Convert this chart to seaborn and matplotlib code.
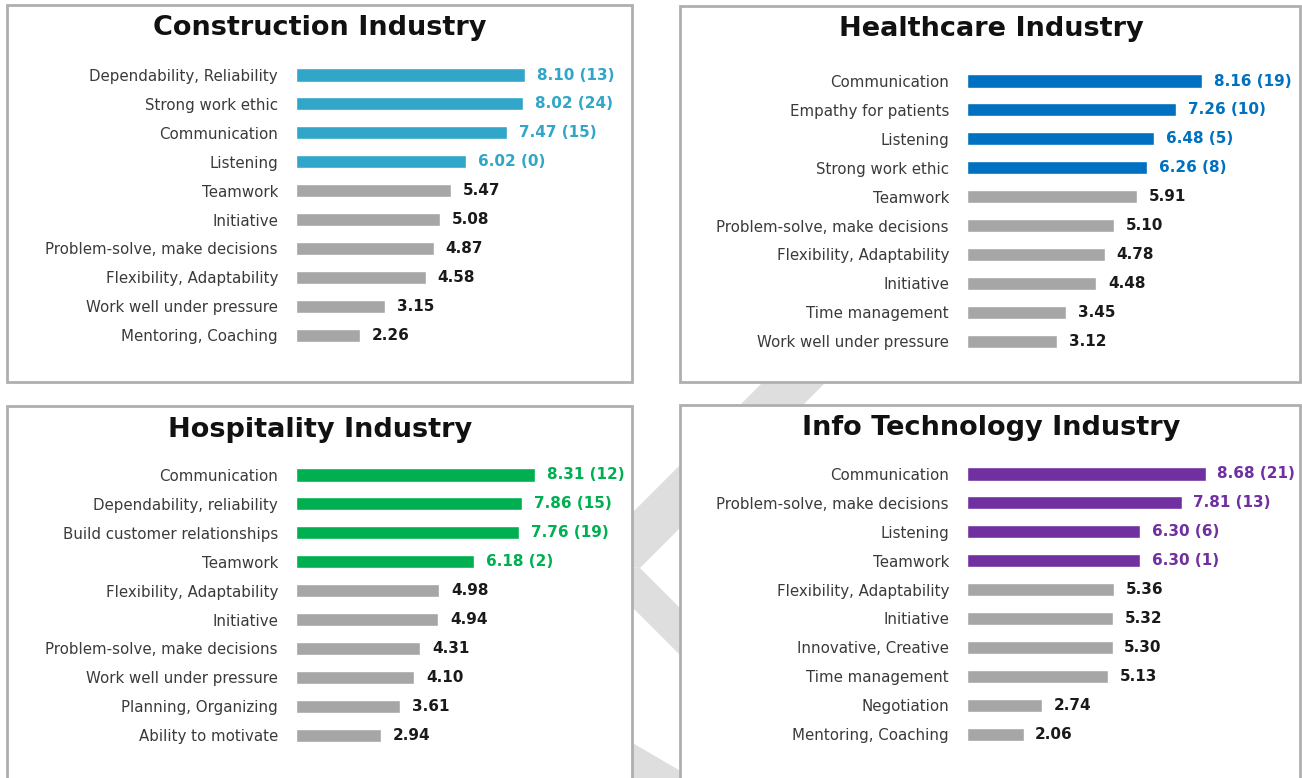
import matplotlib
matplotlib.use("Agg")
import matplotlib.pyplot as plt
import seaborn as sns
import pandas as pd
from matplotlib.patches import Rectangle, Polygon

# ---------------- data ----------------
con_title = "Construction Industry"
con_labels = ["Dependability, Reliability", "Strong work ethic", "Communication", "Listening",
              "Teamwork", "Initiative", "Problem-solve, make decisions", "Flexibility, Adaptability",
              "Work well under pressure", "Mentoring, Coaching"]
con_values = [8.10, 8.02, 7.47, 6.02, 5.47, 5.08, 4.87, 4.58, 3.15, 2.26]
con_counts = [13, 24, 15, 0, None, None, None, None, None, None]

hea_title = "Healthcare Industry"
hea_labels = ["Communication", "Empathy for patients", "Listening", "Strong work ethic",
              "Teamwork", "Problem-solve, make decisions", "Flexibility, Adaptability", "Initiative",
              "Time management", "Work well under pressure"]
hea_values = [8.16, 7.26, 6.48, 6.26, 5.91, 5.10, 4.78, 4.48, 3.45, 3.12]
hea_counts = [19, 10, 5, 8, None, None, None, None, None, None]

hos_title = "Hospitality Industry"
hos_labels = ["Communication", "Dependability, reliability", "Build customer relationships", "Teamwork",
              "Flexibility, Adaptability", "Initiative", "Problem-solve, make decisions",
              "Work well under pressure", "Planning, Organizing", "Ability to motivate"]
hos_values = [8.31, 7.86, 7.76, 6.18, 4.98, 4.94, 4.31, 4.10, 3.61, 2.94]
hos_counts = [12, 15, 19, 2, None, None, None, None, None, None]

it_title = "Info Technology Industry"
it_labels = ["Communication", "Problem-solve, make decisions", "Listening", "Teamwork",
             "Flexibility, Adaptability", "Initiative", "Innovative, Creative", "Time management",
             "Negotiation", "Mentoring, Coaching"]
it_values = [8.68, 7.81, 6.30, 6.30, 5.36, 5.32, 5.30, 5.13, 2.74, 2.06]
it_counts = [21, 13, 6, 1, None, None, None, None, None, None]

accent_colors = ["#31A6C9", "#0070C0", "#00B050", "#7030A0"]
gray_color = "#A6A6A6"

# ---------------- figure ----------------
sns.set_theme(style="white")
plt.rcParams['font.family'] = ['DejaVu Sans']

W, H = 1302, 778
fig = plt.figure(figsize=(W / 100, H / 100), dpi=100)
fig.patch.set_facecolor("white")


def fx(x):
    return x / W


def fy(y):
    return 1 - y / H


def poly(points, **kw):
    p = Polygon([(fx(x), fy(y)) for x, y in points], closed=True,
                transform=fig.transFigure, **kw)
    fig.add_artist(p)


# watermark (behind panels)
wm = "#DEDEDE"
poly([(585, 560), (640, 568), (908, 300), (845, 300)], facecolor=wm, edgecolor="none", zorder=0)
poly([(585, 560), (640, 568), (772, 700), (725, 700)], facecolor=wm, edgecolor="none", zorder=0)
poly([(600, 724), (720, 794), (720, 800), (600, 800)], facecolor=wm, edgecolor="none", zorder=0)

# panel frames
panels = [(7, 5, 632, 382), (680, 6, 1300, 382), (7, 406, 632, 790), (680, 405, 1300, 790)]
for (x1, y1, x2, y2) in panels:
    r = Rectangle((fx(x1), fy(y2)), fx(x2 - x1), (y2 - y1) / H, transform=fig.transFigure,
                  facecolor="white", edgecolor="#AFAFAF", linewidth=2, zorder=1)
    fig.add_artist(r)

# panels: (title, labels, values, counts, color, bar x0 px, px per unit, first row y, title center x, title y)
specs = [
    (con_title, con_labels, con_values, con_counts, accent_colors[0], 296, 28.3, 75, 320, 28),
    (hea_title, hea_labels, hea_values, hea_counts, accent_colors[1], 967, 28.8, 81, 991, 29),
    (hos_title, hos_labels, hos_values, hos_counts, accent_colors[2], 296, 28.76, 475, 320, 430),
    (it_title, it_labels, it_values, it_counts, accent_colors[3], 967, 27.5, 474, 991, 428),
]

row_h = 28.9
for (title, labels, values, counts, color, x0, scale, y_first, tx, ty) in specs:
    n = len(labels)
    top = y_first - row_h / 2
    height = row_h * n
    ax = fig.add_axes([fx(x0), fy(top + height), 10 * scale / W, height / H])
    ax.set_zorder(2)
    ax.patch.set_alpha(0)
    df = pd.DataFrame({"label": labels, "value": values})
    colors = [color if c is not None else gray_color for c in counts]
    sns.barplot(data=df, x="value", y="label", hue="label", palette=colors, legend=False,
                orient="h", width=0.45, ax=ax, saturation=1)
    ax.set_xlim(0, 10)
    ax.set_ylim(n - 0.5, -0.5)
    ax.set_xlabel("")
    ax.set_ylabel("")
    ax.set_xticks([])
    for s in ax.spines.values():
        s.set_visible(False)
    ax.tick_params(axis="y", length=0, pad=13)
    for lab in ax.get_yticklabels():
        lab.set_fontsize(10.8)
        lab.set_color("#3A3A3A")
    for i, (v, c) in enumerate(zip(values, counts)):
        if c is not None:
            txt = f"{v:.2f} ({c})"
            tc = color
        else:
            txt = f"{v:.2f}"
            tc = "#1A1A1A"
        ax.text(v + 0.42, i, txt, va="center", ha="left", fontsize=11,
                fontweight="bold", color=tc)
    fig.text(fx(tx), fy(ty), title, ha="center", va="center", fontsize=19.5,
             fontweight="bold", color="#111111", zorder=3)

fig.savefig("out.png", dpi=100, facecolor="white")
